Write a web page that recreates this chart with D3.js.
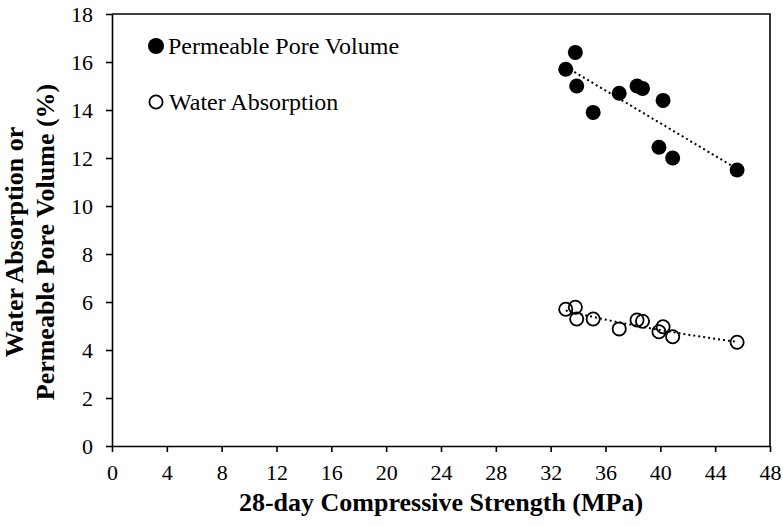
<!DOCTYPE html>
<html>
<head>
<meta charset="utf-8">
<script src="https://cdn.jsdelivr.net/npm/d3@7"></script>
<style>
  body { margin: 0; background: #fff; }
  svg text { font-family: "Liberation Serif", "Times New Roman", Times, serif !important; }
</style>
</head>
<body>
<div id="chart"></div>
<script>
// 28-day compressive strength (MPa), shared by both series
const strength = [33.1, 33.8, 33.9, 35.1, 37.0, 38.3, 38.7, 39.9, 40.2, 40.9, 45.6];
// permeable pore volume (%)
const porePct = [15.7, 16.4, 15.0, 13.9, 14.7, 15.0, 14.9, 12.45, 14.4, 12.0, 11.5];
// water absorption (%)
const absorbPct = [5.7, 5.78, 5.29, 5.29, 4.88, 5.25, 5.2, 4.76, 4.97, 4.55, 4.32];

const xTicks = [0, 4, 8, 12, 16, 20, 24, 28, 32, 36, 40, 44, 48];
const yTicks = [0, 2, 4, 6, 8, 10, 12, 14, 16, 18];

const width = 783, height = 527;
const margin = {top: 14, right: 13, bottom: 81, left: 112};
const w = width - margin.left - margin.right;
const h = height - margin.top - margin.bottom;

const svg = d3.select("#chart").append("svg")
  .attr("width", width)
  .attr("height", height);

const g = svg.append("g")
  .attr("transform", "translate(" + margin.left + "," + margin.top + ")");

const x = d3.scaleLinear().domain([0, 48]).range([0, w]);
const y = d3.scaleLinear().domain([0, 18]).range([h, 0]);

// axes
const xAxis = g.append("g")
  .attr("transform", "translate(0," + h + ")")
  .call(d3.axisBottom(x).tickValues(xTicks).tickSize(6).tickSizeOuter(0).tickPadding(12));
const yAxis = g.append("g")
  .call(d3.axisLeft(y).tickValues(yTicks).tickSize(6).tickSizeOuter(0).tickPadding(13));

[xAxis, yAxis].forEach(a => {
  a.selectAll("path, line").attr("stroke", "#000").attr("stroke-width", 1.6);
  a.selectAll("text").attr("font-size", 22).attr("fill", "#000");
});

// frame top/right
g.append("path")
  .attr("d", "M0,0H" + w + "V" + h)
  .attr("fill", "none")
  .attr("stroke", "#000")
  .attr("stroke-width", 1.6);

// trend lines
function linFit(xs, ys) {
  const mx = d3.mean(xs), my = d3.mean(ys);
  const b = d3.sum(xs, (v, i) => (v - mx) * (ys[i] - my)) / d3.sum(xs, v => (v - mx) ** 2);
  return t => my + b * (t - mx);
}
function powFit(xs, ys) {
  const f = linFit(xs.map(Math.log), ys.map(Math.log));
  return t => Math.exp(f(Math.log(t)));
}

const xMin = d3.min(strength), xMax = d3.max(strength);
const trendX = d3.range(0, 41).map(i => xMin + (xMax - xMin) * i / 40);
const fits = [linFit(strength, porePct), powFit(strength, absorbPct)];

const line = d3.line().x(d => x(d[0])).y(d => y(d[1]));
fits.forEach(f => {
  g.append("path")
    .datum(trendX.map(t => [t, f(t)]))
    .attr("d", line)
    .attr("fill", "none")
    .attr("stroke", "#000")
    .attr("stroke-width", 2)
    .attr("stroke-dasharray", "2,3");
});

// points
g.selectAll(".pore")
  .data(strength.map((s, i) => [s, porePct[i]]))
  .enter().append("circle")
  .attr("cx", d => x(d[0]))
  .attr("cy", d => y(d[1]))
  .attr("r", 7.5)
  .attr("fill", "#000");

g.selectAll(".absorb")
  .data(strength.map((s, i) => [s, absorbPct[i]]))
  .enter().append("circle")
  .attr("cx", d => x(d[0]))
  .attr("cy", d => y(d[1]))
  .attr("r", 6.6)
  .attr("fill", "none")
  .attr("stroke", "#000")
  .attr("stroke-width", 1.8);

// legend
const legend = svg.append("g");
legend.append("circle").attr("cx", 156).attr("cy", 46).attr("r", 8).attr("fill", "#000");
legend.append("text").attr("x", 168).attr("y", 54).attr("font-size", 24).text("Permeable Pore Volume");
legend.append("circle").attr("cx", 156).attr("cy", 102).attr("r", 6.6)
  .attr("fill", "none").attr("stroke", "#000").attr("stroke-width", 1.8);
legend.append("text").attr("x", 169).attr("y", 110).attr("font-size", 24).text("Water Absorption");

// axis titles
svg.append("text")
  .attr("x", margin.left + w / 2)
  .attr("y", 511)
  .attr("text-anchor", "middle")
  .attr("font-size", 26)
  .attr("font-weight", "bold")
  .text("28-day Compressive Strength (MPa)");

const yTitle = svg.append("text")
  .attr("transform", "translate(0,242) rotate(-90)")
  .attr("text-anchor", "middle")
  .attr("font-size", 26)
  .attr("font-weight", "bold");
yTitle.append("tspan").attr("x", 0).attr("y", 23).text("Water Absorption or");
yTitle.append("tspan").attr("x", 0).attr("y", 54).text("Permeable Pore Volume (%)");
</script>
</body>
</html>
